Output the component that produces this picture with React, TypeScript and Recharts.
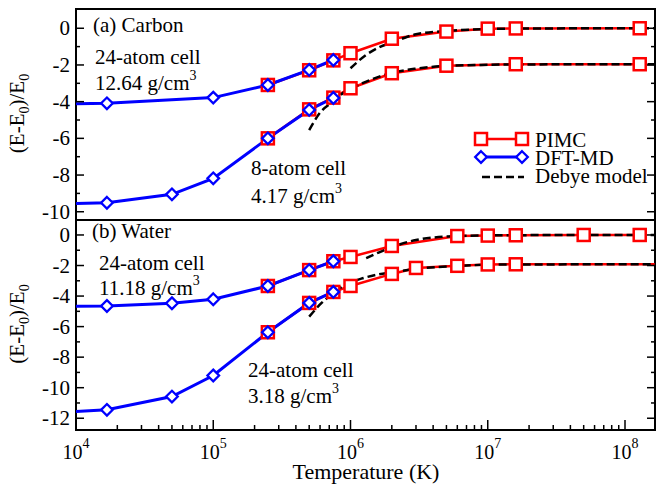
import React from 'react';
import { LineChart, Line, XAxis, YAxis, ReferenceArea } from 'recharts';

// ---------- axes ----------
const X_DOMAIN: [number, number] = [1e4, 1.654e8];
const X_EXPONENTS = [4, 5, 6, 7, 8];
const X_MINOR_MULTIPLIERS = [2, 3, 4, 5, 6, 7, 8, 9];
const TOP_Y_DOMAIN: [number, number] = [-10.45, 1.05];
const BOT_Y_DOMAIN: [number, number] = [-12.77, 0.98];
const TOP_Y_TICKS = [-10, -9, -8, -7, -6, -5, -4, -3, -2, -1, 0];
const BOT_Y_TICKS = [-12, -11, -10, -9, -8, -7, -6, -5, -4, -3, -2, -1, 0];

// ---------- (a) Carbon, 24-atom cell, 12.64 g/cm3 ----------
const carbonHiPimcT = [2.5e5, 5e5, 7.5e5, 1e6, 2e6, 5e6, 1e7, 1.6e7, 1.28e8];
const carbonHiPimcE = [-3.09, -2.29, -1.75, -1.36, -0.57, -0.18, -0.02, -0.01, 0.0];
const carbonHiDftT = [8e3, 1.68e4, 1e5, 2.5e5, 5e5, 7.5e5];
const carbonHiDftE = [-4.12, -4.09, -3.78, -3.09, -2.27, -1.73];
const carbonHiDebyeT = [1e6, 1.3e6, 1.6e6, 2e6, 3e6, 5e6, 1e7, 2e7, 1.654e8];
const carbonHiDebyeE = [-2.18, -1.45, -1.05, -0.78, -0.33, -0.15, -0.04, -0.01, 0];

// ---------- (a) Carbon, 8-atom cell, 4.17 g/cm3 ----------
const carbonLoPimcT = [2.5e5, 5e5, 7.5e5, 1e6, 2e6, 5e6, 1.6e7, 1.28e8];
const carbonLoPimcE = [-6.0, -4.42, -3.78, -3.27, -2.45, -2.04, -1.96, -1.96];
const carbonLoDftT = [8e3, 1.68e4, 5e4, 1e5, 2.5e5, 5e5, 7.5e5];
const carbonLoDftE = [-9.56, -9.51, -9.05, -8.18, -6.0, -4.45, -3.8];
const carbonLoDebyeT = [5e5, 6e5, 7.5e5, 9e5, 1.1e6, 1.6e6, 2e6, 3e6, 5e6, 1e7, 2e7, 1.654e8];
const carbonLoDebyeE = [-5.55, -4.6, -3.98, -3.48, -3.15, -2.65, -2.43, -2.2, -2.05, -1.99, -1.97, -1.96];

// ---------- (b) Water, 24-atom cell, 11.18 g/cm3 ----------
const waterHiPimcT = [2.5e5, 5e5, 7.5e5, 1e6, 2e6, 6e6, 1e7, 1.6e7, 5e7, 1.28e8];
const waterHiPimcE = [-3.34, -2.3, -1.72, -1.44, -0.72, -0.07, -0.04, -0.02, 0, 0];
const waterHiDftT = [8e3, 1.68e4, 5e4, 1e5, 2.5e5, 5e5, 7.5e5];
const waterHiDftE = [-4.67, -4.65, -4.47, -4.21, -3.34, -2.3, -1.72];
const waterHiDebyeT = [1.3e6, 1.6e6, 2e6, 3e6, 6e6, 1e7, 2e7, 1.654e8];
const waterHiDebyeE = [-1.52, -1.15, -0.8, -0.33, -0.07, -0.03, -0.01, 0];

// ---------- (b) Water, 24-atom cell, 3.18 g/cm3 ----------
const waterLoPimcT = [2.5e5, 5e5, 7.5e5, 1e6, 2e6, 3e6, 6e6, 1e7, 1.6e7, 2e8];
const waterLoPimcE = [-6.37, -4.45, -3.73, -3.34, -2.55, -2.16, -2.02, -1.93, -1.92, -1.92];
const waterLoDftT = [8e3, 1.68e4, 5e4, 1e5, 2.5e5, 5e5, 7.5e5];
const waterLoDftE = [-11.6, -11.45, -10.58, -9.2, -6.37, -4.45, -3.73];
const waterLoDebyeT = [5e5, 6e5, 7.5e5, 9e5, 1.2e6, 1.6e6, 2e6, 3e6, 6e6, 1e7, 2e7, 1.654e8];
const waterLoDebyeE = [-5.35, -4.55, -3.8, -3.3, -2.86, -2.58, -2.45, -2.22, -2.03, -1.95, -1.93, -1.92];

const FONT = "'Liberation Serif', 'Times New Roman', Times, serif";
const RED = '#ff0000';
const BLUE = '#0000ff';

const X_TICKS: number[] = [];
X_EXPONENTS.forEach((e) => {
  X_TICKS.push(10 ** e);
  X_MINOR_MULTIPLIERS.forEach((m) => {
    const v = m * 10 ** e;
    if (v <= X_DOMAIN[1]) X_TICKS.push(v);
  });
});
X_TICKS.sort((a, b) => a - b);

const zip = (t: number[], e: number[]) => t.map((x, i) => ({ x, y: e[i] }));
const inDomain = (v: number) => v >= X_DOMAIN[0] && v <= X_DOMAIN[1];

const SquareDot = (props: any) => {
  const { cx, cy, payload, index } = props;
  if (cx == null || cy == null || !inDomain(payload.x)) return <g key={`s${index}`} />;
  return (
    <rect key={`s${index}`} x={cx - 6} y={cy - 6} width={12} height={12} fill="#fff" stroke={RED} strokeWidth={2.5} />
  );
};

const DiamondDot = (props: any) => {
  const { cx, cy, payload, index } = props;
  if (cx == null || cy == null || !inDomain(payload.x)) return <g key={`d${index}`} />;
  const r = 5.8;
  return (
    <polygon
      key={`d${index}`}
      points={`${cx},${cy - r} ${cx + r},${cy} ${cx},${cy + r} ${cx - r},${cy}`}
      fill="#fff"
      stroke={BLUE}
      strokeWidth={2.3}
    />
  );
};

const PLOT_LEFT = 76;
const PLOT_RIGHT = 655;

const isMajorX = (v: number) => {
  const l = Math.log10(v);
  return Math.abs(l - Math.round(l)) < 1e-6;
};

const makeXTick = (plotTop: number, plotBottom: number, topTicks: boolean, labelY: number | null) => (p: any) => {
  const { x, payload } = p;
  const v = payload.value;
  const major = isMajorX(v);
  const len = major ? 10 : 5;
  return (
    <g key={`xt${v}`}>
      <line x1={x} x2={x} y1={plotBottom} y2={plotBottom - len} stroke="#000" strokeWidth={1.5} />
      {topTicks && <line x1={x} x2={x} y1={plotTop} y2={plotTop + len} stroke="#000" strokeWidth={1.5} />}
      {labelY != null && major && (
        <text x={x} y={labelY} textAnchor="middle" fontSize={20} fontFamily={FONT} fill="#000">
          10
          <tspan dy={-11} fontSize={14}>
            {Math.round(Math.log10(v))}
          </tspan>
        </text>
      )}
    </g>
  );
};

const YTick = (p: any) => {
  const { y, payload } = p;
  const v = payload.value;
  const major = v % 2 === 0;
  const len = major ? 8 : 4;
  return (
    <g key={`yt${v}`}>
      <line x1={PLOT_LEFT} x2={PLOT_LEFT + len} y1={y} y2={y} stroke="#000" strokeWidth={1.5} />
      <line x1={PLOT_RIGHT} x2={PLOT_RIGHT - len} y1={y} y2={y} stroke="#000" strokeWidth={1.5} />
      {major && (
        <text x={70} y={y + 7} textAnchor="end" fontSize={21} fontFamily={FONT} fill="#000">
          {v === 0 ? '0' : String(v)}
        </text>
      )}
    </g>
  );
};

type SeriesSet = { pimc: any[]; dft: any[]; debye: any[] };

const Panel = ({
  height,
  marginTop,
  marginBottom,
  xHeight,
  yDomain,
  yTicks,
  sets,
  xTick,
}: {
  height: number;
  marginTop: number;
  marginBottom: number;
  xHeight: number;
  yDomain: [number, number];
  yTicks: number[];
  sets: SeriesSet[];
  xTick: (p: any) => any;
}) => (
  <LineChart width={658} height={height} margin={{ top: marginTop, right: 3, bottom: marginBottom, left: 0 }}>
    <XAxis
      dataKey="x"
      type="number"
      scale="log"
      domain={X_DOMAIN}
      allowDataOverflow
      ticks={X_TICKS}
      interval={0}
      tick={xTick}
      tickLine={false}
      axisLine={false}
      height={xHeight}
    />
    <YAxis
      type="number"
      domain={yDomain}
      allowDataOverflow
      ticks={yTicks}
      interval={0}
      tick={YTick}
      tickLine={false}
      axisLine={false}
      width={76}
    />
    <ReferenceArea
      x1={X_DOMAIN[0]}
      x2={X_DOMAIN[1]}
      y1={yDomain[0]}
      y2={yDomain[1]}
      fill="none"
      stroke="#000"
      strokeWidth={2}
      ifOverflow="visible"
    />
    {sets.map((s, i) => (
      <Line
        key={`p${i}`}
        data={s.pimc}
        dataKey="y"
        type="linear"
        stroke={RED}
        strokeWidth={2.5}
        dot={SquareDot}
        activeDot={false}
        isAnimationActive={false}
      />
    ))}
    {sets.map((s, i) => (
      <Line
        key={`d${i}`}
        data={s.dft}
        dataKey="y"
        type="linear"
        stroke={BLUE}
        strokeWidth={3}
        dot={DiamondDot}
        activeDot={false}
        isAnimationActive={false}
      />
    ))}
    {sets.map((s, i) => (
      <Line
        key={`b${i}`}
        data={s.debye}
        dataKey="y"
        type="monotone"
        stroke="#000"
        strokeWidth={2.5}
        strokeDasharray="8 4"
        dot={false}
        activeDot={false}
        isAnimationActive={false}
      />
    ))}
  </LineChart>
);

const carbonSets: SeriesSet[] = [
  { pimc: zip(carbonHiPimcT, carbonHiPimcE), dft: zip(carbonHiDftT, carbonHiDftE), debye: zip(carbonHiDebyeT, carbonHiDebyeE) },
  { pimc: zip(carbonLoPimcT, carbonLoPimcE), dft: zip(carbonLoDftT, carbonLoDftE), debye: zip(carbonLoDebyeT, carbonLoDebyeE) },
];
const waterSets: SeriesSet[] = [
  { pimc: zip(waterHiPimcT, waterHiPimcE), dft: zip(waterHiDftT, waterHiDftE), debye: zip(waterHiDebyeT, waterHiDebyeE) },
  { pimc: zip(waterLoPimcT, waterLoPimcE), dft: zip(waterLoDftT, waterLoDftE), debye: zip(waterLoDebyeT, waterLoDebyeE) },
];

const T = (props: any) => <text fontFamily={FONT} fontSize={21} fill="#000" {...props} />;

const Density = ({ x, y, value }: { x: number; y: number; value: string }) => (
  <T x={x} y={y}>
    {value} g/cm
    <tspan dy={-10} fontSize={14}>
      3
    </tspan>
  </T>
);

const YTitle = ({ cy }: { cy: number }) => (
  <text
    x={24}
    y={cy}
    transform={`rotate(-90, 24, ${cy})`}
    textAnchor="middle"
    fontFamily={FONT}
    fontSize={21}
    fill="#000"
  >
    (E-E
    <tspan dy={5} fontSize={14}>
      0
    </tspan>
    <tspan dy={-5}>)/E</tspan>
    <tspan dy={5} fontSize={14}>
      0
    </tspan>
  </text>
);

export default function App() {
  return (
    <div style={{ position: 'absolute', left: 0, top: 0, width: 658, height: 485, background: '#fff' }}>
      <div style={{ position: 'absolute', left: 0, top: 0 }}>
        <Panel
          height={234}
          marginTop={9}
          marginBottom={14}
          xHeight={0}
          yDomain={TOP_Y_DOMAIN}
          yTicks={TOP_Y_TICKS}
          sets={carbonSets}
          xTick={makeXTick(9, 220, true, null)}
        />
      </div>
      <div style={{ position: 'absolute', left: 0, top: 218 }}>
        <Panel
          height={267}
          marginTop={2}
          marginBottom={0}
          xHeight={55}
          yDomain={BOT_Y_DOMAIN}
          yTicks={BOT_Y_TICKS}
          sets={waterSets}
          xTick={makeXTick(2, 212, false, 241)}
        />
      </div>
      <svg width={658} height={485} style={{ position: 'absolute', left: 0, top: 0, pointerEvents: 'none' }}>
        <YTitle cy={113.5} />
        <YTitle cy={324} />
        <text x={366} y={479} textAnchor="middle" fontFamily={FONT} fontSize={22} fill="#000">
          Temperature (K)
        </text>

        <T x={93} y={32}>(a) Carbon</T>
        <T x={95} y={64}>24-atom cell</T>
        <Density x={95} y={90} value="12.64" />
        <T x={251} y={175}>8-atom cell</T>
        <Density x={251} y={203} value="4.17" />

        <T x={92} y={238}>(b) Water</T>
        <T x={99} y={270}>24-atom cell</T>
        <Density x={99} y={295} value="11.18" />
        <T x={248} y={377}>24-atom cell</T>
        <Density x={248} y={403} value="3.18" />

        {/* legend */}
        <line x1={481} x2={522} y1={139} y2={139} stroke={RED} strokeWidth={2.5} />
        <rect x={475} y={133} width={12} height={12} fill="#fff" stroke={RED} strokeWidth={2.5} />
        <rect x={516} y={133} width={12} height={12} fill="#fff" stroke={RED} strokeWidth={2.5} />
        <T x={535} y={147}>PIMC</T>
        <line x1={481} x2={522} y1={157} y2={157} stroke={BLUE} strokeWidth={3} />
        <polygon points="481,151.2 486.8,157 481,162.8 475.2,157" fill="#fff" stroke={BLUE} strokeWidth={2.3} />
        <polygon points="522,151.2 527.8,157 522,162.8 516.2,157" fill="#fff" stroke={BLUE} strokeWidth={2.3} />
        <T x={535} y={165}>DFT-MD</T>
        <line x1={482} x2={524} y1={177} y2={177} stroke="#000" strokeWidth={2.5} strokeDasharray="8 4" />
        <T x={535} y={183}>Debye model</T>
      </svg>
    </div>
  );
}
